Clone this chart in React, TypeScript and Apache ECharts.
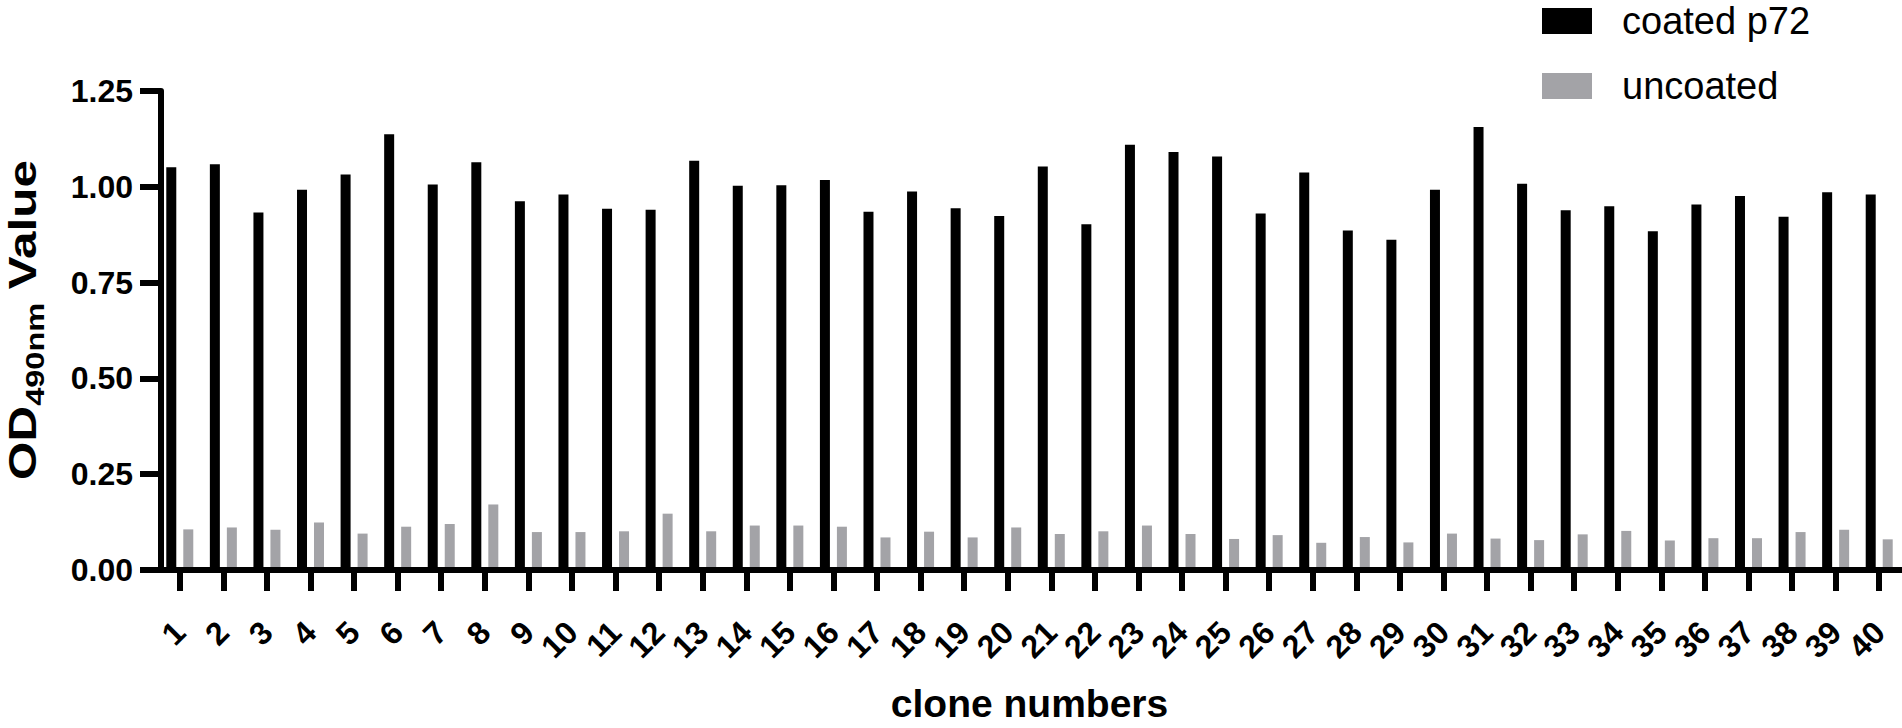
import React, { useEffect, useRef } from 'react';
import * as echarts from 'echarts';

const categories = [
  '1', '2', '3', '4', '5', '6', '7', '8', '9', '10',
  '11', '12', '13', '14', '15', '16', '17', '18', '19', '20',
  '21', '22', '23', '24', '25', '26', '27', '28', '29', '30',
  '31', '32', '33', '34', '35', '36', '37', '38', '39', '40',
];

const coatedP72 = [
  1.051, 1.059, 0.933, 0.992, 1.032, 1.137, 1.006, 1.064, 0.962, 0.980,
  0.943, 0.940, 1.068, 1.003, 1.004, 1.018, 0.935, 0.988, 0.944, 0.924,
  1.053, 0.902, 1.110, 1.091, 1.079, 0.930, 1.037, 0.886, 0.862, 0.992,
  1.156, 1.008, 0.939, 0.949, 0.884, 0.954, 0.976, 0.922, 0.986, 0.980,
];

const uncoated = [
  0.106, 0.111, 0.105, 0.124, 0.095, 0.113, 0.120, 0.171, 0.099, 0.099,
  0.101, 0.147, 0.101, 0.116, 0.116, 0.113, 0.085, 0.100, 0.085, 0.111,
  0.094, 0.101, 0.116, 0.094, 0.081, 0.091, 0.071, 0.086, 0.072, 0.095,
  0.082, 0.078, 0.093, 0.102, 0.077, 0.083, 0.083, 0.099, 0.105, 0.080,
];

const seriesNames = ['coated p72', 'uncoated'];
const xAxisTitle = 'clone numbers';
const yAxisTitle = '{a|OD}{b|490nm}{a| Value}';

const FONT = "'Liberation Sans', Arial, Helvetica, sans-serif";

export default function App() {
  const ref = useRef<HTMLDivElement>(null);

  useEffect(() => {
    if (!ref.current) return;
    const chart = echarts.init(ref.current, null, { renderer: 'svg' });
    chart.setOption({
      animation: false,
      backgroundColor: '#ffffff',
      grid: { left: 158, right: 1, top: 91, bottom: 148, containLabel: false },
      legend: {
        data: seriesNames,
        orient: 'vertical',
        left: 1542,
        top: 2,
        padding: 0,
        itemWidth: 50,
        itemHeight: 26,
        itemGap: 27,
        icon: 'rect',
        selectedMode: false,
        textStyle: {
          fontSize: 38,
          fontFamily: FONT,
          color: '#000',
          padding: [0, 0, 0, 25],
        },
      },
      xAxis: {
        type: 'category',
        data: categories,
        z: 5,
        axisLine: { show: true, lineStyle: { color: '#000', width: 6 } },
        axisTick: { show: true, alignWithLabel: true, length: 21, lineStyle: { color: '#000', width: 6 } },
        axisLabel: {
          interval: 0,
          rotate: 45,
          margin: 57,
          fontSize: 32,
          fontWeight: 'bold',
          fontFamily: FONT,
          color: '#000',
        },
        name: xAxisTitle,
        nameLocation: 'middle',
        nameGap: 114,
        nameTextStyle: { fontSize: 39, fontWeight: 'bold', fontFamily: FONT, color: '#000' },
      },
      yAxis: {
        type: 'value',
        min: 0,
        max: 1.25,
        interval: 0.25,
        offset: -3,
        z: 5,
        axisLine: { show: true, lineStyle: { color: '#000', width: 6 } },
        axisTick: { show: true, length: 21, lineStyle: { color: '#000', width: 6 } },
        splitLine: { show: false },
        axisLabel: {
          margin: 28,
          fontSize: 32,
          fontWeight: 'bold',
          fontFamily: FONT,
          color: '#000',
          formatter: (v: number) => v.toFixed(2),
        },
      },
      series: [
        {
          name: seriesNames[0],
          type: 'bar',
          data: coatedP72,
          barWidth: 10,
          barGap: '70%',
          itemStyle: { color: '#000000' },
        },
        {
          name: seriesNames[1],
          type: 'bar',
          data: uncoated,
          barWidth: 10,
          itemStyle: { color: '#a3a3a7' },
        },
      ],
      graphic: [
        {
          type: 'text',
          x: 26,
          y: 320,
          rotation: Math.PI / 2,
          scaleX: 1.3,
          style: {
            text: yAxisTitle,
            align: 'center',
            verticalAlign: 'middle',
            fill: '#000',
            fontFamily: FONT,
            fontWeight: 'bold',
            fontSize: 38,
            rich: {
              a: { fontSize: 38, fontWeight: 'bold', fontFamily: FONT, fill: '#000', verticalAlign: 'top' },
              b: { fontSize: 25, fontWeight: 'bold', fontFamily: FONT, fill: '#000', verticalAlign: 'bottom', padding: [19, 0, 0, 0] },
            },
          },
        },
      ],
    });
    return () => chart.dispose();
  }, []);

  return (
    <div
      ref={ref}
      style={{ position: 'fixed', left: 0, top: 0, width: 1902, height: 728, background: '#fff' }}
    />
  );
}
